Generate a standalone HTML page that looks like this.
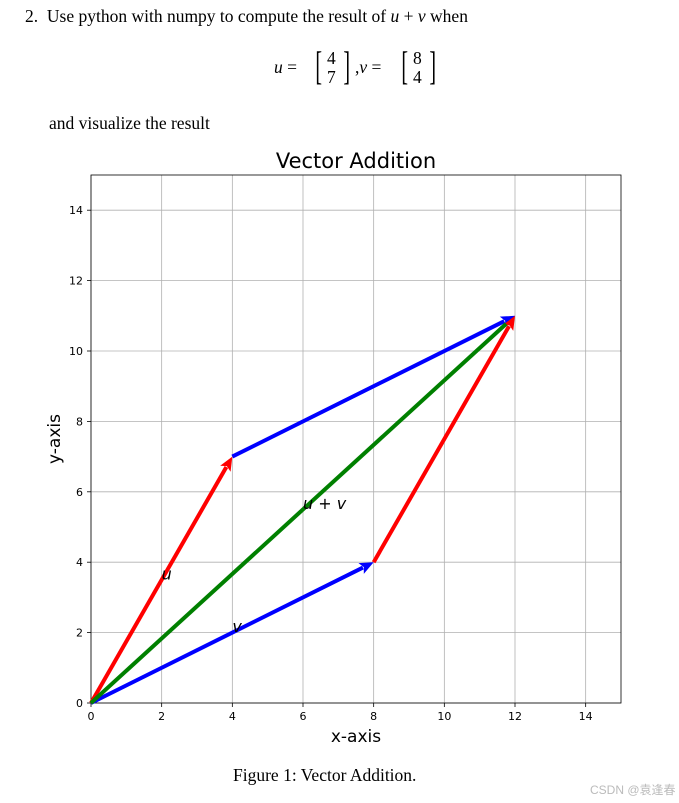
<!DOCTYPE html>
<html><head><meta charset="utf-8"><style>
body{margin:0;background:#fff;width:679px;height:803px;overflow:hidden;position:relative;font-family:"Liberation Serif",serif;}
.t{position:absolute;color:#000;white-space:nowrap}
</style></head><body>
<div class="t" style="left:25px;top:6px;font-size:17.5px">2.&nbsp; Use python with numpy to compute the result of <i>u</i> + <i>v</i> when</div>
<div class="t" style="left:274px;top:48px;font-size:17.5px;line-height:18px">
<span style="position:absolute;left:0;top:10px"><i>u</i> =</span>
<span style="position:absolute;left:38px;top:-2px;font-size:40px;line-height:40px;transform:scaleX(.5)">[</span>
<span style="position:absolute;left:53px;top:1px">4</span><span style="position:absolute;left:53px;top:20px">7</span>
<span style="position:absolute;left:66px;top:-2px;font-size:40px;line-height:40px;transform:scaleX(.5)">]</span>
<span style="position:absolute;left:81px;top:10px">,<i>v</i> =</span>
<span style="position:absolute;left:124px;top:-2px;font-size:40px;line-height:40px;transform:scaleX(.5)">[</span>
<span style="position:absolute;left:139px;top:1px">8</span><span style="position:absolute;left:139px;top:20px">4</span>
<span style="position:absolute;left:152px;top:-2px;font-size:40px;line-height:40px;transform:scaleX(.5)">]</span>
</div>
<div class="t" style="left:49px;top:113px;font-size:17.5px">and visualize the result</div>
<svg id="chart" width="679" height="803" style="position:absolute;left:0;top:0" font-family="'DejaVu Sans','Liberation Sans',sans-serif"></svg>
<div class="t" style="left:233px;top:765px;font-size:17.5px">Figure 1: Vector Addition.</div>
<div class="t" style="left:590px;top:781px;font-size:12px;color:#bbb;font-family:'Liberation Sans','Noto Sans CJK SC',sans-serif">CSDN @袁逢春</div>
<script>
const ticks=[0,2,4,6,8,10,12,14];
const vecStart=[[0,0],[0,0],[4,7],[8,4],[0,0]];
const vecEnd=[[4,7],[8,4],[12,11],[12,11],[12,11]];
const vecColor=["red","blue","blue","red","green"];
const labels=["u","v","u + v"];
const labelPos=[[2,3.4],[4,1.9],[6,5.4]];
const svg=document.getElementById('chart');
const NS='http://www.w3.org/2000/svg';
const L=91,R=621,T=175,B=703,MX=15,MY=15;
const sx=v=>L+v/MX*(R-L), sy=v=>B-v/MY*(B-T);
function mk(t,a,p){const e=document.createElementNS(NS,t);for(const k in a)e.setAttribute(k,a[k]);(p||svg).appendChild(e);return e;}
ticks.forEach(t=>{
 let g=mk('line',{x1:sx(t),x2:sx(t),y1:T,y2:B,stroke:'#b0b0b0','stroke-width':0.8});
 
 g=mk('line',{x1:L,x2:R,y1:sy(t),y2:sy(t),stroke:'#b0b0b0','stroke-width':0.8});
 
 let a=mk('text',{x:sx(t),y:B+17,'font-size':11,'text-anchor':'middle'});a.textContent=t;
 
 mk('line',{x1:sx(t),x2:sx(t),y1:B,y2:B+4,stroke:'#000','stroke-width':0.8});
 a=mk('text',{x:L-8,y:sy(t)+4,'font-size':11,'text-anchor':'end'});a.textContent=t;
 
 mk('line',{x1:L-4,x2:L,y1:sy(t),y2:sy(t),stroke:'#000','stroke-width':0.8});
});
const fr=mk('rect',{x:L,y:T,width:R-L,height:B-T,fill:'none',stroke:'#000','stroke-width':0.8});

vecStart.forEach((s,i)=>{
 const x1=sx(s[0]),y1=sy(s[1]),x2=sx(vecEnd[i][0]),y2=sy(vecEnd[i][1]);
 const dx=x2-x1,dy=y2-y1,len=Math.hypot(dx,dy),ux=dx/len,uy=dy/len,hl=14,hw=6;
 const bx=x2-ux*hl,by=y2-uy*hl;
 const sh=mk('line',{x1:x1,y1:y1,x2:bx+ux*2,y2:by+uy*2,stroke:vecColor[i],'stroke-width':4});
 
 if(i<4){
 const hd=mk('polygon',{points:`${x2},${y2} ${bx-uy*hw},${by+ux*hw} ${bx+ux*3},${by+uy*3} ${bx+uy*hw},${by-ux*hw}`,fill:vecColor[i]});
 }
});
labels.forEach((l,i)=>{
 const t=mk('text',{x:sx(labelPos[i][0]),y:sy(labelPos[i][1])-4,'font-size':16,'font-style':'italic'});
 t.textContent=l;
 
});
let t=mk('text',{x:(L+R)/2,y:168,'font-size':21,'text-anchor':'middle'});t.textContent='Vector Addition';

t=mk('text',{x:(L+R)/2,y:742,'font-size':17,'text-anchor':'middle'});t.textContent='x-axis';

t=mk('text',{x:0,y:0,'font-size':17,'text-anchor':'middle',transform:`translate(60,${(T+B)/2}) rotate(-90)`});t.textContent='y-axis';

</script>
</body></html>
